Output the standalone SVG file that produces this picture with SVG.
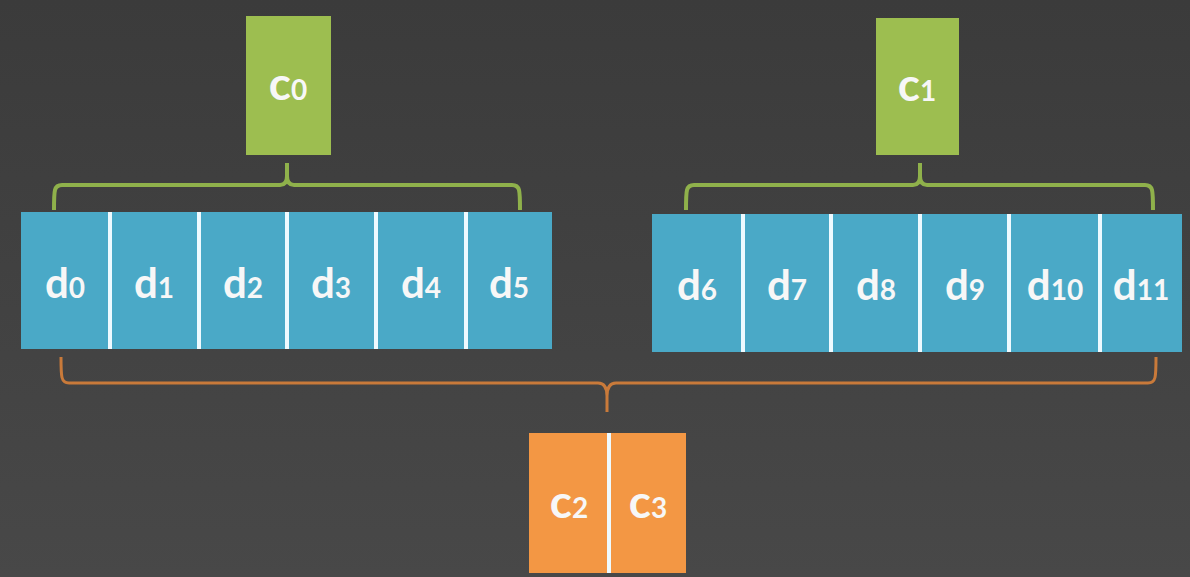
<svg xmlns="http://www.w3.org/2000/svg" width="1190" height="577" viewBox="0 0 1190 577">
<defs>
<linearGradient id="bg" x1="0" y1="0" x2="0" y2="1">
<stop offset="0" stop-color="#3b3b3b"/>
<stop offset="1" stop-color="#484848"/>
</linearGradient>
<style>
.blue{fill:#4aa9c7}
.green{fill:#9dbe50}
.orange{fill:#f39744}
.div{stroke:#eefaff;stroke-width:4}
.lbl{font-family:Lato,"Open Sans","Liberation Sans",sans-serif;font-weight:700;fill:#f7f7f7;text-anchor:middle}
.d{font-size:42px}
.c{font-size:46px}
.sub{font-size:28px}
.gb{fill:none;stroke:#8fb14b;stroke-width:4;stroke-linejoin:round}
.ob{fill:none;stroke:#c97a3a;stroke-width:3;stroke-linejoin:round}
</style>
</defs>
<rect width="1190" height="577" fill="url(#bg)"/>

<g id="connectors">
<path class="gb" d="M54,210 C54,190 54,185 62,185 H280 C285,185 287,182 287,176 V163 M287,176 C287,182 289,185 294,185 H512 C520,185 520,190 520,210"/>
<path class="gb" d="M686,210 C686,190 686,185 694,185 H913 C918,185 920,182 920,176 V163 M920,176 C920,182 922,185 927,185 H1145 C1153,185 1153,190 1153,210"/>
<path class="ob" d="M61,357 C61,377 61,383 69,383 H598 C604,383 607,388 607,396 V412 M607,396 C607,388 610,383 616,383 H1148 C1156,383 1156,377 1156,357"/>
</g>

<g id="c0">
<rect class="green" x="246" y="16" width="85" height="139"/>
<text class="lbl c" x="288" y="100">c<tspan class="sub">0</tspan></text>
</g>
<g id="c1">
<rect class="green" x="876" y="18" width="83" height="137"/>
<text class="lbl c" x="917" y="101">c<tspan class="sub">1</tspan></text>
</g>

<g id="data-left">
<rect class="blue" x="21" y="212" width="531" height="137"/>
<line class="div" x1="110" y1="212" x2="110" y2="349"/>
<line class="div" x1="199" y1="212" x2="199" y2="349"/>
<line class="div" x1="287" y1="212" x2="287" y2="349"/>
<line class="div" x1="376" y1="212" x2="376" y2="349"/>
<line class="div" x1="466" y1="212" x2="466" y2="349"/>
</g>
<g id="d0"><text class="lbl d" x="65" y="298">d<tspan class="sub">0</tspan></text></g>
<g id="d1"><text class="lbl d" x="154" y="298">d<tspan class="sub">1</tspan></text></g>
<g id="d2"><text class="lbl d" x="243" y="298">d<tspan class="sub">2</tspan></text></g>
<g id="d3"><text class="lbl d" x="331" y="298">d<tspan class="sub">3</tspan></text></g>
<g id="d4"><text class="lbl d" x="421" y="298">d<tspan class="sub">4</tspan></text></g>
<g id="d5"><text class="lbl d" x="509" y="298">d<tspan class="sub">5</tspan></text></g>

<g id="data-right">
<rect class="blue" x="652" y="214" width="530" height="138"/>
<line class="div" x1="743" y1="214" x2="743" y2="352"/>
<line class="div" x1="831" y1="214" x2="831" y2="352"/>
<line class="div" x1="920" y1="214" x2="920" y2="352"/>
<line class="div" x1="1009" y1="214" x2="1009" y2="352"/>
<line class="div" x1="1100" y1="214" x2="1100" y2="352"/>
</g>
<g id="d6"><text class="lbl d" x="697" y="300">d<tspan class="sub">6</tspan></text></g>
<g id="d7"><text class="lbl d" x="787" y="300">d<tspan class="sub">7</tspan></text></g>
<g id="d8"><text class="lbl d" x="876" y="300">d<tspan class="sub">8</tspan></text></g>
<g id="d9"><text class="lbl d" x="965" y="300">d<tspan class="sub">9</tspan></text></g>
<g id="d10"><text class="lbl d" x="1055" y="300">d<tspan class="sub">10</tspan></text></g>
<g id="d11"><text class="lbl d" x="1141" y="300">d<tspan class="sub">11</tspan></text></g>

<g id="parity">
<rect class="orange" x="529" y="433" width="157" height="140"/>
<line class="div" x1="609" y1="433" x2="609" y2="573"/>
</g>
<g id="c2"><text class="lbl c" x="569" y="518">c<tspan class="sub">2</tspan></text></g>
<g id="c3"><text class="lbl c" x="648" y="518">c<tspan class="sub">3</tspan></text></g>
</svg>
